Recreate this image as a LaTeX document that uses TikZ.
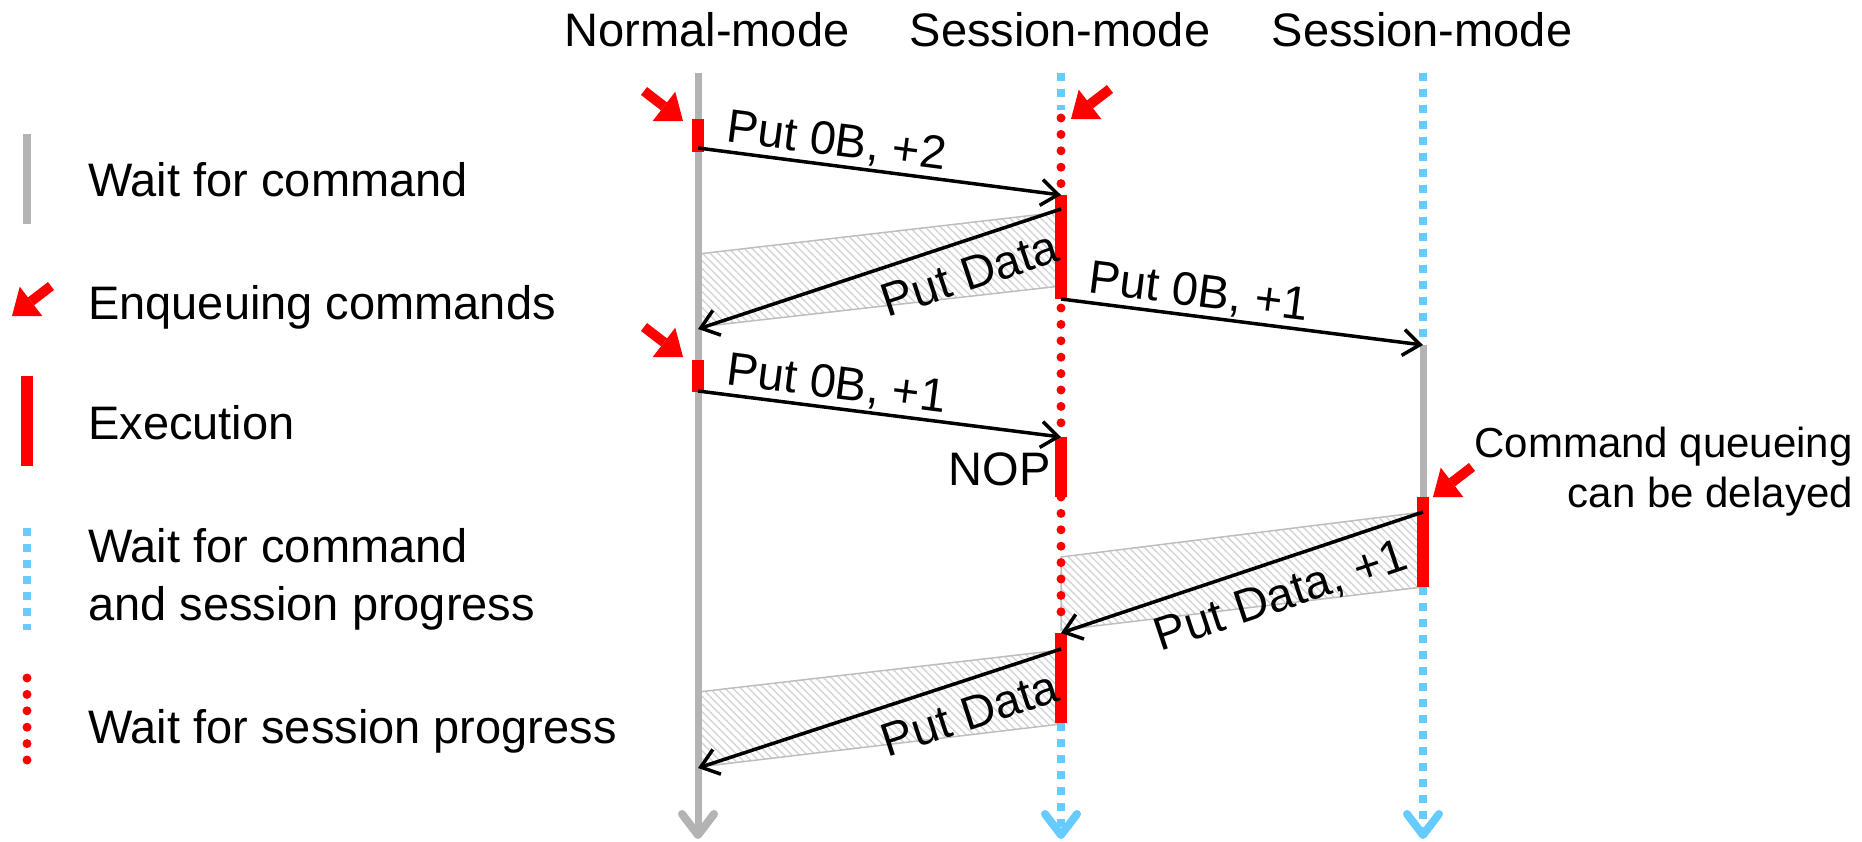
\documentclass[tikz,border=0pt]{standalone}
\usepackage{fontspec}
\setmainfont{Liberation Sans}
\usetikzlibrary{arrows.meta,patterns.meta}
\definecolor{lifegray}{HTML}{B3B3B3}
\definecolor{waitblue}{HTML}{66CCFF}
\definecolor{execred}{HTML}{FF0000}
\definecolor{hatchgray}{HTML}{D4D4D4}
\definecolor{bandedge}{HTML}{BEBEBE}

\begin{document}
\begin{tikzpicture}[x=1pt,y=-1pt,
  txt/.style={font=\fontsize{47pt}{58pt}\selectfont, inner sep=0pt},
  note/.style={font=\fontsize{42pt}{50pt}\selectfont, inner sep=0pt, align=right},
  waitcmd/.style={draw=lifegray, line width=7pt},
  waitboth/.style={draw=waitblue, line width=8pt, dash pattern=on 8pt off 8pt},
  waitsess/.style={draw=execred, line width=9pt, line cap=round, dash pattern=on 0pt off 16.4pt},
  exec/.style={draw=execred, line width=12pt},
  enq/.style={draw=execred, line width=10pt, -{Triangle[length=24pt,width=37pt,line width=0pt]}},
  msg/.style={draw=black, line width=3.5pt, -{Straight Barb[length=17pt,width=26pt]}},
  lbl/.style={font=\fontsize{47pt}{58pt}\selectfont, inner sep=2pt, sloped},
  band/.style={draw=bandedge, line width=1.5pt, pattern={Lines[angle=-45,distance=5.5pt,line width=1.4pt]}, pattern color=hatchgray},
  endtip/.style={line width=8pt, line cap=round, line join=round},
]
\useasboundingbox (0,0) rectangle (1862,842);

% ---------- lifeline headings ----------
\node[txt, anchor=base] (hN)  at (707,47)  {Normal-mode};
\node[txt, anchor=base] (hS1) at (1060,47) {Session-mode};
\node[txt, anchor=base] (hS2) at (1422,47) {Session-mode};

% ---------- event points on the lifelines ----------
% normal-mode client (x = 698)
\coordinate (nTop) at (698,73);
\coordinate (nEnd) at (698,835);
\coordinate (nA)   at (698,148);
\coordinate (nB)   at (698,329);
\coordinate (nC)   at (698,391);
\coordinate (nD)   at (698,768);
% first session-mode client (x = 1061)
\coordinate (sTop) at (1061,73);
\coordinate (sEnd) at (1061,835);
\coordinate (sA)   at (1061,195);
\coordinate (sB)   at (1061,209);
\coordinate (sC)   at (1061,299);
\coordinate (sD)   at (1061,437);
\coordinate (sE)   at (1061,633);
\coordinate (sF)   at (1061,649);
% second session-mode client (x = 1423)
\coordinate (tTop) at (1423,73);
\coordinate (tEnd) at (1423,835);
\coordinate (tA)   at (1423,345);
\coordinate (tB)   at (1423,497);
\coordinate (tC)   at (1423,512);
\coordinate (tD)   at (1423,587);

% ---------- data transfer bands ----------
\path[band] (698,254) -- (1061,212) -- (1061,286) -- (698,327) -- cycle;
\path[band] (1061,557) -- (1423,512) -- (1423,587) -- (1061,630) -- cycle;
\path[band] (698,692) -- (1061,650) -- (1061,724) -- (698,767) -- cycle;

% ---------- lifelines ----------
\draw[waitcmd] (nTop) -- (nEnd);
\draw[waitcmd, endtip] (682,814) -- (nEnd) -- (714,814);

\draw[waitboth] (sTop) -- (1061,110);
\draw[waitsess] (1061,118) -- (1061,184);
\draw[waitsess] (1061,308) -- (1061,424);
\draw[waitsess] (1061,497) -- (1061,628);
\draw[waitboth] (1061,723) -- (sEnd);
\draw[draw=waitblue, endtip] (1045,814) -- (sEnd) -- (1077,814);

\draw[waitboth] (tTop) -- (tA);
\draw[waitcmd] (tA) -- (tB);
\draw[waitboth] (tD) -- (tEnd);
\draw[draw=waitblue, endtip] (1407,814) -- (tEnd) -- (1439,814);

% ---------- executions ----------
\draw[exec] (698,119) -- (698,152);
\draw[exec] (698,360) -- (698,392);
\draw[exec] (sA) -- (sC);
\draw[exec] (sD) -- (1061,497);
\draw[exec] (sE) -- (1061,723);
\draw[exec] (tB) -- (tD);

% ---------- enqueued commands ----------
\draw[enq] (644,91)   -- (683,121);
\draw[enq] (644,327)  -- (683,357);
\draw[enq] (1110,89)  -- (1071,119);
\draw[enq] (1472,467) -- (1433,497);

% ---------- messages ----------
\draw[msg] (nA) -- node[lbl, above=0pt, pos=.373] (m1) {Put 0B, +2} (sA);
\draw[msg] (sB) -- node[lbl, below=13pt, pos=.28] (m2) {Put Data} (nB);
\draw[msg] (sC) -- node[lbl, above=0pt, pos=.372] (m3) {Put 0B, +1} (tA);
\draw[msg] (nC) -- node[lbl, above=0pt, pos=.373] (m4) {Put 0B, +1} (sD);
\draw[msg] (tC) -- node[lbl, below=13pt, pos=.423] (m5) {Put Data, +1} (sE);
\draw[msg] (sF) -- node[lbl, below=13pt, pos=.28] (m6) {Put Data} (nD);

\node[txt, anchor=base east] (nop) at (1051,485) {NOP};
% the base anchor of a two-line node sits on its last line
\node[note, anchor=base east] (delay) at (1853,507) {Command queueing\\can be delayed};

% ---------- legend ----------
\draw[waitcmd, line width=8pt] (27,134) -- (27,224);
\node[txt, anchor=base west] (k1) at (88,197) {Wait for command};
\draw[enq] (51,286) -- (12,316);
\node[txt, anchor=base west] (k2) at (88,319) {Enqueuing commands};
\draw[exec] (27,376) -- (27,466);
\node[txt, anchor=base west] (k3) at (88,439) {Execution};
\draw[waitboth] (27,528) -- (27,630);
\node[txt, anchor=base west, align=left] (k4) at (88,620) {Wait for command\\and session progress};
\draw[waitsess] (27,678) -- (27,760);
\node[txt, anchor=base west] (k5) at (88,743) {Wait for session progress};
\end{tikzpicture}
\end{document}
